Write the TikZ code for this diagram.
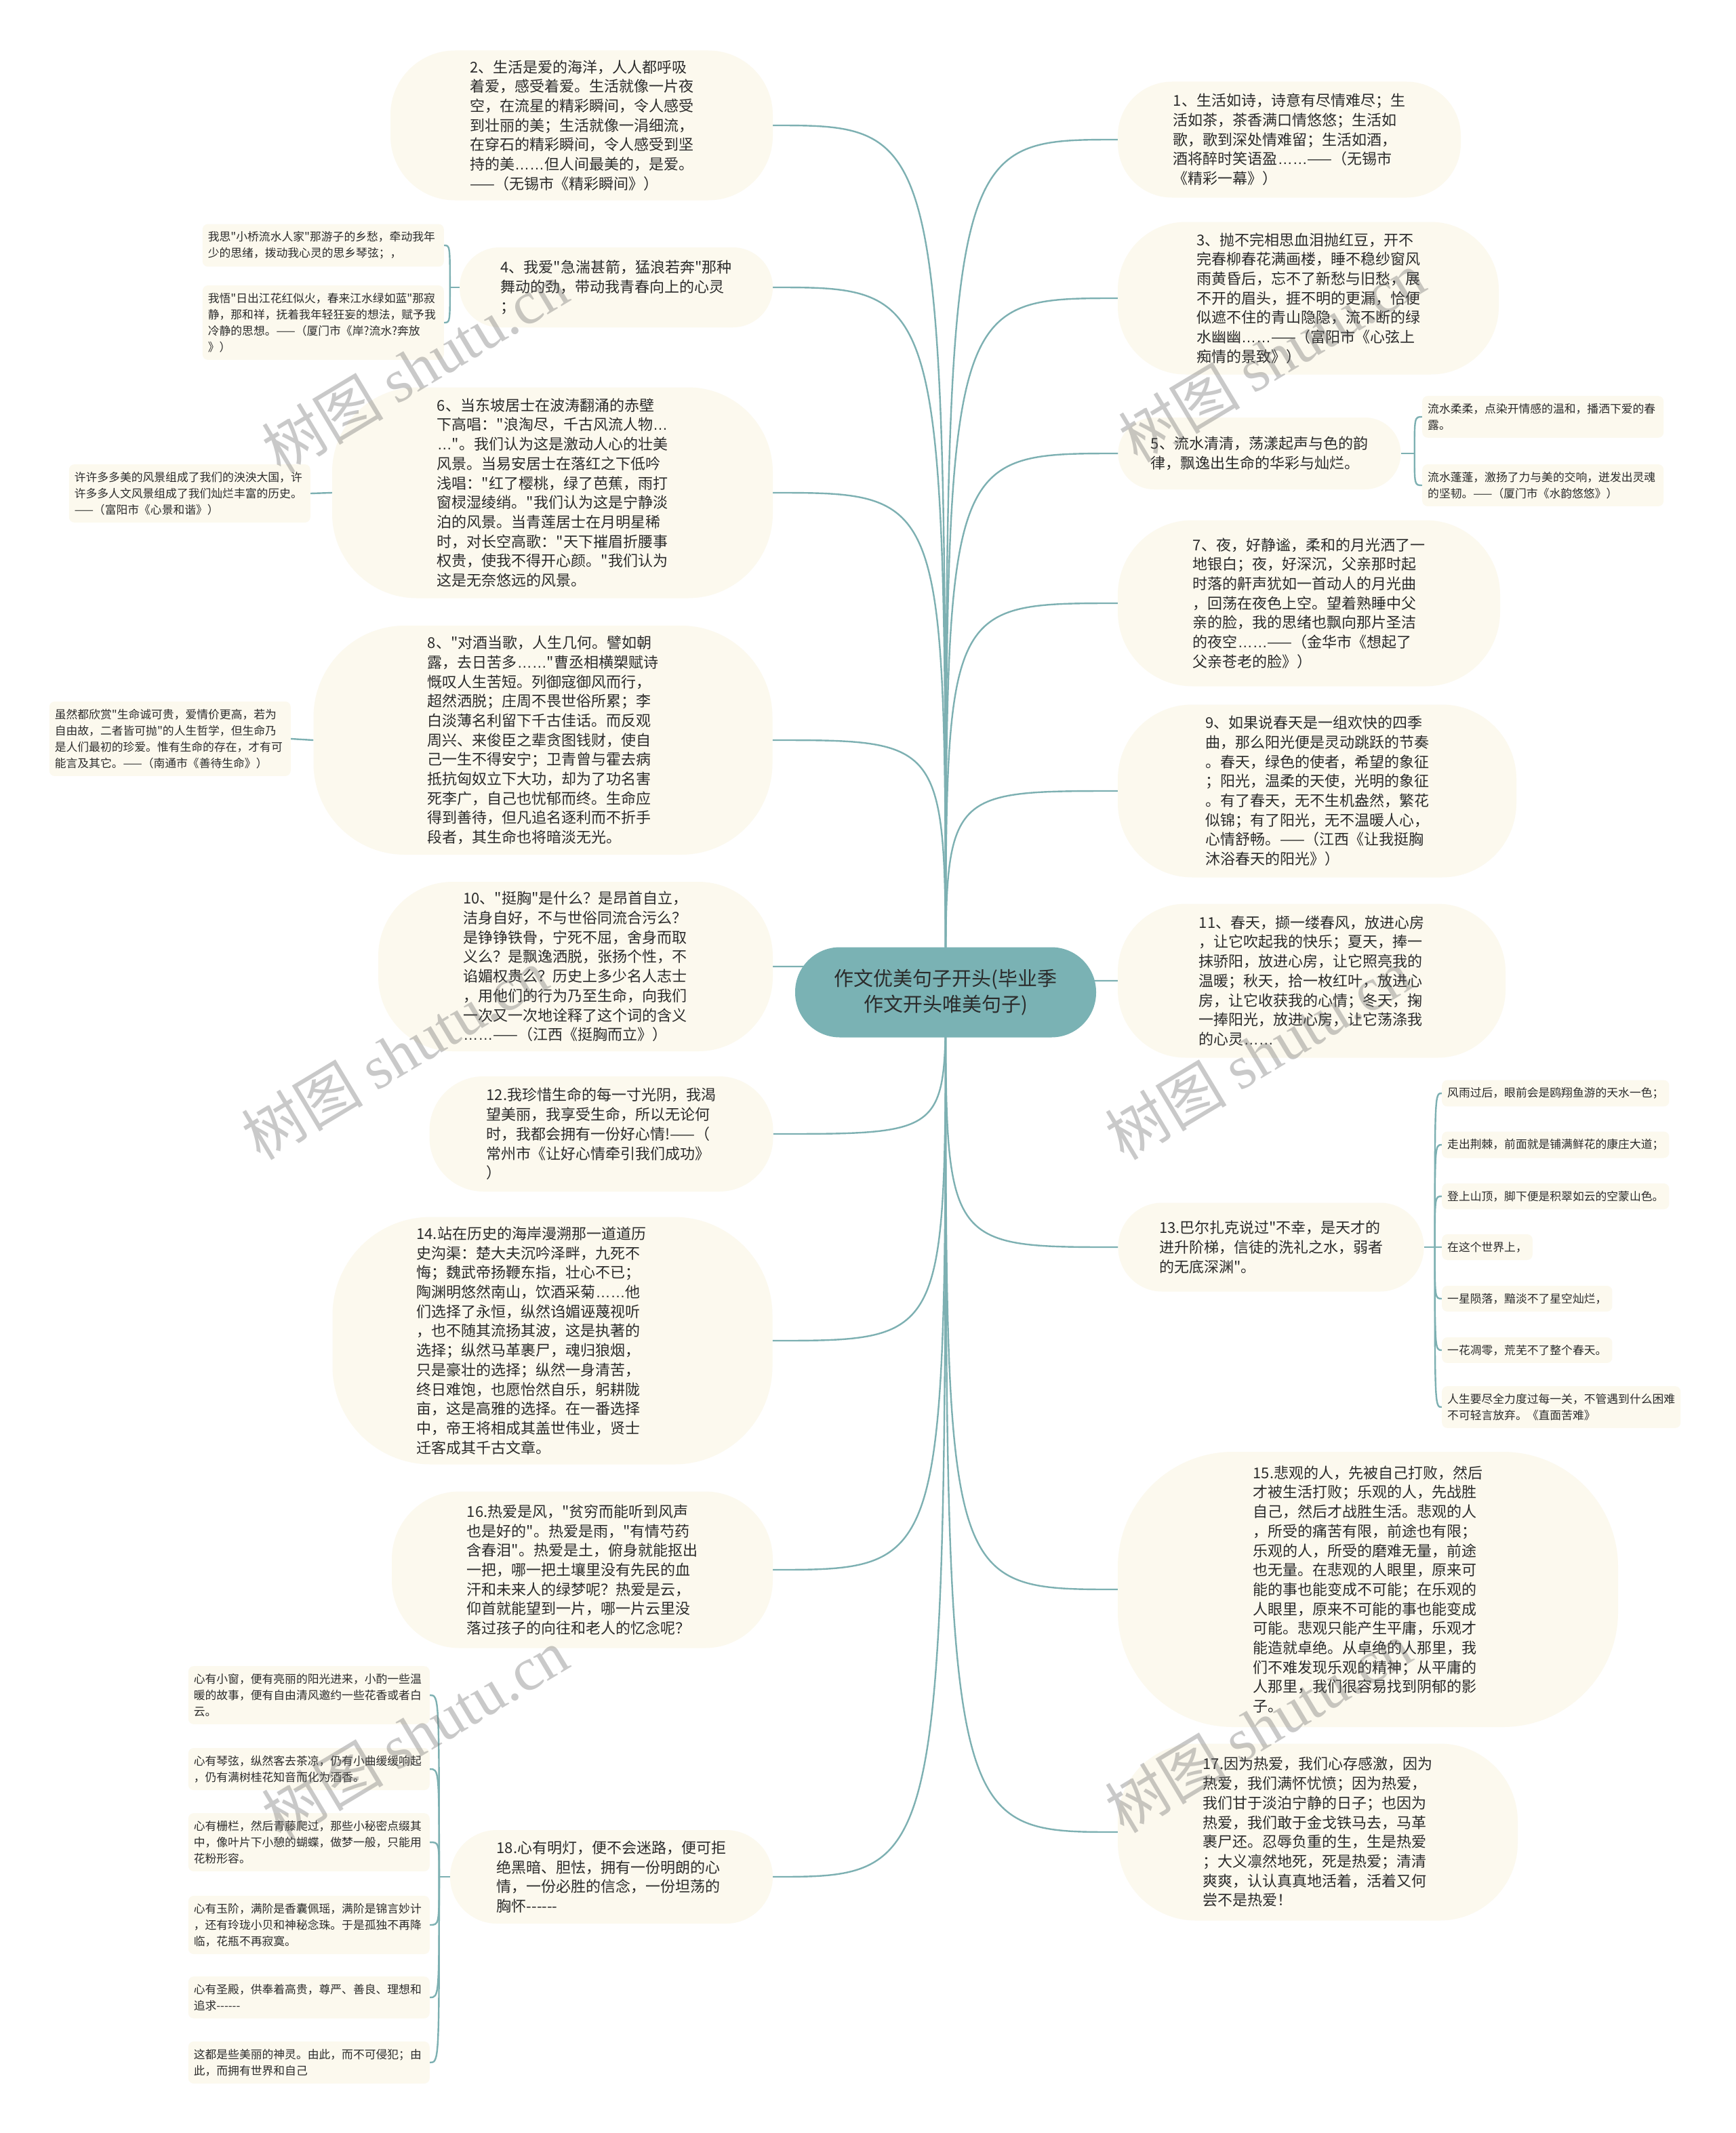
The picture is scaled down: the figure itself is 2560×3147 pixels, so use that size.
\documentclass[tikz,border=0pt]{standalone}
\usepackage{fontspec}
\setmainfont{Noto Sans CJK SC}[Ligatures=TeXOff]
\newfontfamily\markserif{Liberation Serif}
\newfontfamily\latinsans{Liberation Sans}[Ligatures=TeXOff]
\usetikzlibrary{positioning, backgrounds}

\definecolor{paper}{HTML}{FCF9EE}
\definecolor{branch}{HTML}{7DB0B2}
\definecolor{rootfill}{HTML}{7AB2B4}
\definecolor{ink}{HTML}{2B2B2B}

\newcommand\topicsize{\fontsize{22}{28.7}\selectfont}
\newcommand\leafsize{\fontsize{16.8}{24}\selectfont}
\newcommand\rootsize{\fontsize{29}{38}\selectfont}
\newcommand\ellip{{\latinsans ……}}
\newcommand\halfellip{{\latinsans …}}

\begin{document}
\begin{tikzpicture}[x=1pt, y=-1pt,
    topic/.style={fill=paper, text=ink, font=\topicsize, align=left, inner sep=0pt},
    leaf/.style={fill=paper, text=ink, font=\leafsize, align=left, inner xsep=8pt, inner ysep=11pt, rounded corners=8pt},
    leafbox/.style={leaf, text width=340pt},
    hubnode/.style={fill=rootfill, text=ink, font=\rootsize, align=center, rounded corners=66pt, minimum width=444pt, minimum height=133pt},
    link/.style={draw=branch, line width=2.4pt},
    wmark/.style={text=black!60, text opacity=0.35, rotate=31, font=\fontsize{90}{90}\selectfont}]

    \useasboundingbox (0,0) rectangle (2560,3147);

    % root
    \node[hubnode] (root) at (1395,1464) {作文优美句子开头(毕业季\\作文开头唯美句子)};

    % left branch
    \node[topic, minimum width=564pt, minimum height=221pt, rounded corners=95pt] (n2) at (858,185)
        {2、生活是爱的海洋，人人都呼吸\\着爱，感受着爱。生活就像一片夜\\空，在流星的精彩瞬间，令人感受\\到壮丽的美；生活就像一涓细流，\\在穿石的精彩瞬间，令人感受到坚\\持的美\ellip 但人间最美的，是爱。\\——（无锡市《精彩瞬间》）};
    \node[topic, minimum width=462pt, minimum height=118pt, rounded corners=59pt] (n4) at (909,424)
        {4、我爱"急湍甚箭，猛浪若奔"那种\\舞动的劲，带动我青春向上的心灵\\；};
    \node[topic, minimum width=650pt, minimum height=311pt, rounded corners=125pt] (n6) at (815,727)
        {6、当东坡居士在波涛翻涌的赤壁\\下高唱："浪淘尽，千古风流人物\halfellip\\\halfellip"。我们认为这是激动人心的壮美\\风景。当易安居士在落红之下低吟\\浅唱："红了樱桃，绿了芭蕉，雨打\\窗棂湿绫绡。"我们认为这是宁静淡\\泊的风景。当青莲居士在月明星稀\\时，对长空高歌："天下摧眉折腰事\\权贵，使我不得开心颜。"我们认为\\这是无奈悠远的风景。};
    \node[topic, minimum width=677pt, minimum height=338pt, rounded corners=135pt] (n8) at (801,1092)
        {8、"对酒当歌，人生几何。譬如朝\\露，去日苦多\ellip"曹丞相横槊赋诗\\慨叹人生苦短。列御寇御风而行，\\超然洒脱；庄周不畏世俗所累；李\\白淡薄名利留下千古佳话。而反观\\周兴、来俊臣之辈贪图钱财，使自\\己一生不得安宁；卫青曾与霍去病\\抵抗匈奴立下大功，却为了功名害\\死李广，自己也忧郁而终。生命应\\得到善待，但凡追名逐利而不折手\\段者，其生命也将暗淡无光。};
    \node[topic, minimum width=582pt, minimum height=250pt, rounded corners=110pt] (n10) at (849,1426)
        {10、"挺胸"是什么？是昂首自立，\\洁身自好，不与世俗同流合污么？\\是铮铮铁骨，宁死不屈，舍身而取\\义么？是飘逸洒脱，张扬个性，不\\谄媚权贵么？历史上多少名人志士\\，用他们的行为乃至生命，向我们\\一次又一次地诠释了这个词的含义\\\ellip ——（江西《挺胸而立》）};
    \node[topic, minimum width=507pt, minimum height=170pt, rounded corners=80pt] (n12) at (887,1673)
        {12.我珍惜生命的每一寸光阴，我渴\\望美丽，我享受生命，所以无论何\\时，我都会拥有一份好心情!——（\\常州市《让好心情牵引我们成功》\\）};
    \node[topic, minimum width=649pt, minimum height=365pt, rounded corners=145pt, text width=401pt] (n14) at (815,1978)
        {14.站在历史的海岸漫溯那一道道历\\史沟渠：楚大夫沉吟泽畔，九死不\\悔；魏武帝扬鞭东指，壮心不已；\\陶渊明悠然南山，饮酒采菊\ellip 他\\们选择了永恒，纵然诌媚诬蔑视听\\，也不随其流扬其波，这是执著的\\选择；纵然马革裹尸，魂归狼烟，\\只是豪壮的选择；纵然一身清苦，\\终日难饱，也愿怡然自乐，躬耕陇\\亩，这是高雅的选择。在一番选择\\中，帝王将相成其盖世伟业，贤士\\迁客成其千古文章。};
    \node[topic, minimum width=562pt, minimum height=231pt, rounded corners=100pt] (n16) at (859,2316)
        {16.热爱是风，"贫穷而能听到风声\\也是好的"。热爱是雨，"有情芍药\\含春泪"。热爱是土，俯身就能抠出\\一把，哪一把土壤里没有先民的血\\汗和未来人的绿梦呢？热爱是云，\\仰首就能望到一片，哪一片云里没\\落过孩子的向往和老人的忆念呢？};
    \node[topic, minimum width=476pt, minimum height=138pt, rounded corners=69pt] (n18) at (902,2769)
        {18.心有明灯，便不会迷路，便可拒\\绝黑暗、胆怯，拥有一份明朗的心\\情，一份必胜的信念，一份坦荡的\\胸怀------};

    % right branch
    \node[topic, minimum width=506pt, minimum height=171pt, rounded corners=80pt] (n1) at (1902,206)
        {1、生活如诗，诗意有尽情难尽；生\\活如茶，茶香满口情悠悠；生活如\\歌，歌到深处情难留；生活如酒，\\酒将醉时笑语盈\ellip ——（无锡市\\《精彩一幕》）};
    \node[topic, minimum width=562pt, minimum height=225pt, rounded corners=100pt] (n3) at (1930,440)
        {3、抛不完相思血泪抛红豆，开不\\完春柳春花满画楼，睡不稳纱窗风\\雨黄昏后，忘不了新愁与旧愁，展\\不开的眉头，捱不明的更漏，恰便\\似遮不住的青山隐隐，流不断的绿\\水幽幽\ellip ——（富阳市《心弦上\\痴情的景致》）};
    \node[topic, minimum width=417pt, minimum height=106pt, rounded corners=53pt] (n5) at (1858,669)
        {5、流水清清，荡漾起声与色的韵\\律，飘逸出生命的华彩与灿烂。};
    \node[topic, minimum width=564pt, minimum height=245pt, rounded corners=110pt] (n7) at (1931,890)
        {7、夜，好静谧，柔和的月光洒了一\\地银白；夜，好深沉，父亲那时起\\时落的鼾声犹如一首动人的月光曲\\，回荡在夜色上空。望着熟睡中父\\亲的脸，我的思绪也飘向那片圣洁\\的夜空\ellip ——（金华市《想起了\\父亲苍老的脸》）};
    \node[topic, minimum width=588pt, minimum height=255pt, rounded corners=110pt] (n9) at (1943,1167)
        {9、如果说春天是一组欢快的四季\\曲，那么阳光便是灵动跳跃的节奏\\。春天，绿色的使者，希望的象征\\；阳光，温柔的天使，光明的象征\\。有了春天，无不生机盎然，繁花\\似锦；有了阳光，无不温暖人心，\\心情舒畅。——（江西《让我挺胸\\沐浴春天的阳光》）};
    \node[topic, minimum width=572pt, minimum height=227pt, rounded corners=100pt] (n11) at (1935,1447)
        {11、春天，撷一缕春风，放进心房\\，让它吹起我的快乐；夏天，捧一\\抹骄阳，放进心房，让它照亮我的\\温暖；秋天，拾一枚红叶，放进心\\房，让它收获我的心情；冬天，掬\\一捧阳光，放进心房，让它荡涤我\\的心灵\ellip};
    \node[topic, minimum width=451pt, minimum height=131pt, rounded corners=65pt] (n13) at (1875,1840)
        {13.巴尔扎克说过"不幸，是天才的\\进升阶梯，信徒的洗礼之水，弱者\\的无底深渊"。};
    \node[topic, minimum width=738pt, minimum height=406pt, rounded corners=170pt] (n15) at (2018,2345)
        {15.悲观的人，先被自己打败，然后\\才被生活打败；乐观的人，先战胜\\自己，然后才战胜生活。悲观的人\\，所受的痛苦有限，前途也有限；\\乐观的人，所受的磨难无量，前途\\也无量。在悲观的人眼里，原来可\\能的事也能变成不可能；在乐观的\\人眼里，原来不可能的事也能变成\\可能。悲观只能产生平庸，乐观才\\能造就卓绝。从卓绝的人那里，我\\们不难发现乐观的精神；从平庸的\\人那里，我们很容易找到阴郁的影\\子。};
    \node[topic, minimum width=590pt, minimum height=261pt, rounded corners=115pt] (n17) at (1944,2703)
        {17.因为热爱，我们心存感激，因为\\热爱，我们满怀忧愤；因为热爱，\\我们甘于淡泊宁静的日子；也因为\\热爱，我们敢于金戈铁马去，马革\\裹尸还。忍辱负重的生，生是热爱\\；大义凛然地死，死是热爱；清清\\爽爽，认认真真地活着，活着又何\\尝不是热爱！};

    % leaves, left side
    \node[leafbox, anchor=east] (l4a) at (655,362) {我思"小桥流水人家"那游子的乡愁，牵动我年\\少的思绪，拨动我心灵的思乡琴弦；，};
    \node[leafbox, anchor=east] (l4b) at (655,476) {我悟"日出江花红似火，春来江水绿如蓝"那寂\\静，那和祥，抚着我年轻狂妄的想法，赋予我\\冷静的思想。——（厦门市《岸?流水?奔放\\》）};
    \node[leafbox, anchor=east] (l6) at (458,728) {许许多多美的风景组成了我们的泱泱大国，许\\许多多人文风景组成了我们灿烂丰富的历史。\\——（富阳市《心景和谐》）};
    \node[leafbox, anchor=east] (l8) at (429,1090) {虽然都欣赏"生命诚可贵，爱情价更高，若为\\自由故，二者皆可抛"的人生哲学，但生命乃\\是人们最初的珍爱。惟有生命的存在，才有可\\能言及其它。——（南通市《善待生命》）};
    \node[leafbox, anchor=east] (l18a) at (634,2501) {心有小窗，便有亮丽的阳光进来，小酌一些温\\暖的故事，便有自由清风邀约一些花香或者白\\云。};
    \node[leafbox, anchor=east] (l18b) at (634,2610) {心有琴弦，纵然客去茶凉，仍有小曲缓缓响起\\，仍有满树桂花知音而化为酒香。};
    \node[leafbox, anchor=east] (l18c) at (634,2718) {心有栅栏，然后青藤爬过，那些小秘密点缀其\\中，像叶片下小憩的蝴蝶，做梦一般，只能用\\花粉形容。};
    \node[leafbox, anchor=east] (l18d) at (634,2840) {心有玉阶，满阶是香囊佩瑶，满阶是锦言妙计\\，还有玲珑小贝和神秘念珠。于是孤独不再降\\临，花瓶不再寂寞。};
    \node[leafbox, anchor=east] (l18e) at (634,2947) {心有圣殿，供奉着高贵，尊严、善良、理想和\\追求------};
    \node[leafbox, anchor=east] (l18f) at (634,3043) {这都是些美丽的神灵。由此，而不可侵犯；由\\此，而拥有世界和自己};

    % leaves, right side
    \node[leafbox, anchor=west] (l5a) at (2098,615) {流水柔柔，点染开情感的温和，播洒下爱的春\\露。};
    \node[leafbox, anchor=west] (l5b) at (2098,716) {流水蓬蓬，激扬了力与美的交响，迸发出灵魂\\的坚韧。——（厦门市《水韵悠悠》）};
    \node[leaf, anchor=west] (l13a) at (2127,1613) {风雨过后，眼前会是鸥翔鱼游的天水一色；};
    \node[leaf, anchor=west] (l13b) at (2127,1689) {走出荆棘，前面就是铺满鲜花的康庄大道；};
    \node[leaf, anchor=west] (l13c) at (2127,1765) {登上山顶，脚下便是积翠如云的空蒙山色。};
    \node[leaf, anchor=west] (l13d) at (2127,1840) {在这个世界上，};
    \node[leaf, anchor=west] (l13e) at (2127,1916) {一星陨落，黯淡不了星空灿烂，};
    \node[leaf, anchor=west] (l13f) at (2127,1992) {一花凋零，荒芜不了整个春天。};
    \node[leaf, anchor=west] (l13g) at (2127,2076) {人生要尽全力度过每一关，不管遇到什么困难\\不可轻言放弃。《直面苦难》};

    \begin{pgfonlayer}{background}
        \fill[white] (0,0) rectangle (2560,3147);

        % branches out of the root
        \foreach \n in {n2,n4,n6,n8,n10,n12,n14,n16,n18}
            \draw[link] (root.center) .. controls (root.center |- \n.east) .. (\n.east);
        \foreach \n in {n1,n3,n5,n7,n9,n11,n13,n15,n17}
            \draw[link] (root.center) .. controls (root.center |- \n.west) .. (\n.west);

        % brackets to the leaves
        \draw[link] (n4.west) -- ++(-14,0) coordinate (j4);
        \foreach \l in {l4a,l4b}
            \draw[link] (j4) .. controls (j4 |- \l.east) .. (\l.east);
        \draw[link] (n6.west) -- (l6.east);
        \draw[link] (n8.west) -- (l8.east);
        \draw[link] (n18.west) -- ++(-16,0) coordinate (j18);
        \foreach \l in {l18a,l18b,l18c,l18d,l18e,l18f}
            \draw[link] (j18) .. controls (j18 |- \l.east) .. (\l.east);
        \draw[link] (n5.east) -- ++(20,0) coordinate (j5);
        \foreach \l in {l5a,l5b}
            \draw[link] (j5) .. controls (j5 |- \l.west) .. (\l.west);
        \draw[link] (n13.east) -- ++(16,0) coordinate (j13);
        \foreach \l in {l13a,l13b,l13c,l13d,l13e,l13f,l13g}
            \draw[link] (j13) .. controls (j13 |- \l.west) .. (\l.west);
    \end{pgfonlayer}

    % watermark
    \foreach \wx/\wy [count=\k] in {612/542, 1876/526, 582/1555, 1856/1555, 612/2558, 1856/2548}
        \node[wmark] (wm\k) at (\wx,\wy) {树图 {\markserif shutu.cn}};
\end{tikzpicture}
\end{document}
